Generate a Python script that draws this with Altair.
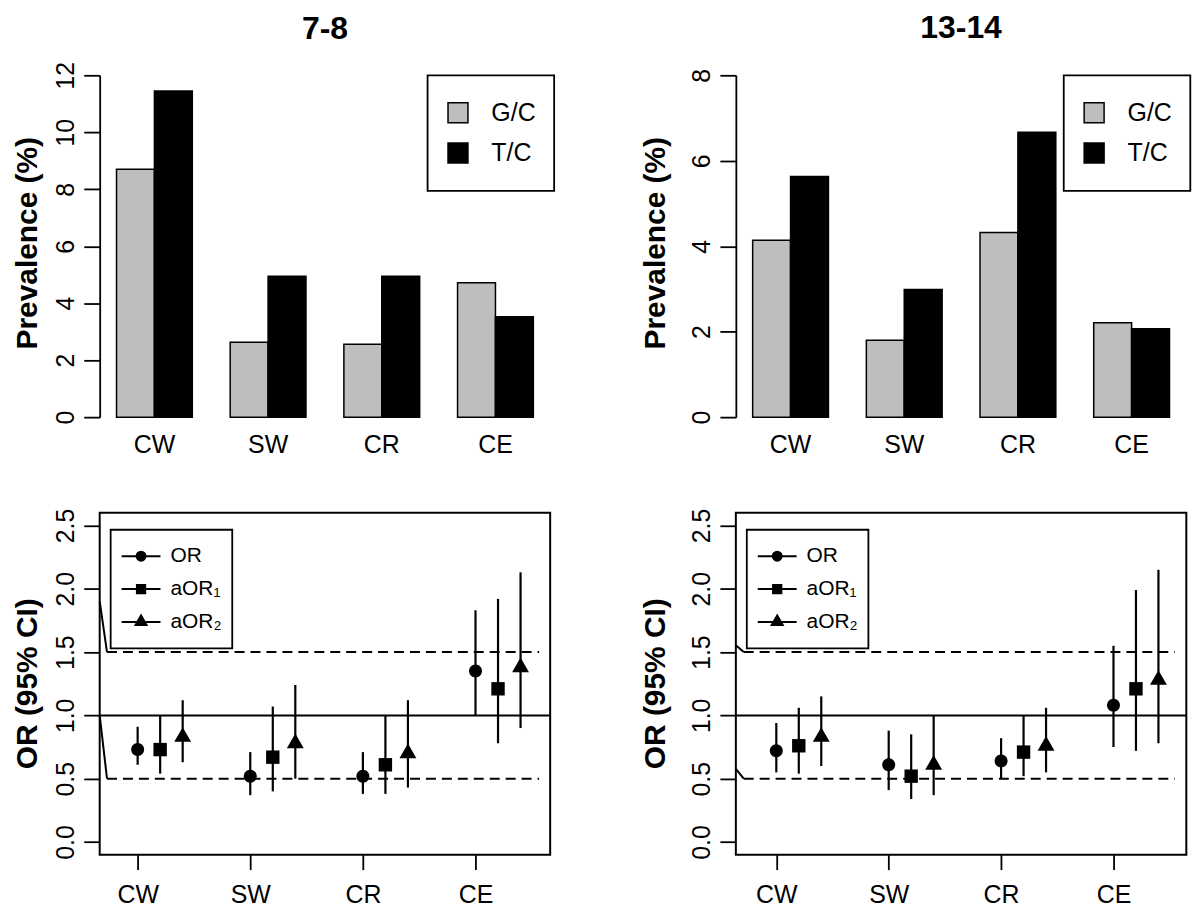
import altair as alt
import pandas as pd

# ---------------- data ----------------
regions = ["CW", "SW", "CR", "CE"]
genotypes = ["G/C", "T/C"]

prev_78_gc = [8.70, 2.63, 2.56, 4.72]
prev_78_tc = [11.45, 4.95, 4.95, 3.52]
prev_1314_gc = [4.14, 1.80, 4.32, 2.21]
prev_1314_tc = [5.63, 2.99, 6.67, 2.07]
prev_ticks_78 = [0, 2, 4, 6, 8, 10, 12]
prev_ticks_1314 = [0, 2, 4, 6, 8]

measures = ["OR", "aOR\u2081", "aOR\u2082"]
measure_offsets = [0.0, 0.2, 0.4]
or_ticks = [0.0, 0.5, 1.0, 1.5, 2.0, 2.5]

# age 7-8
or78_est = [0.73, 0.52, 0.52, 1.35]
or78_lo = [0.61, 0.37, 0.38, 1.00]
or78_hi = [0.91, 0.71, 0.71, 1.83]
aor1_78_est = [0.73, 0.67, 0.61, 1.21]
aor1_78_lo = [0.54, 0.40, 0.38, 0.78]
aor1_78_hi = [1.00, 1.07, 1.00, 1.92]
aor2_78_est = [0.83, 0.78, 0.70, 1.38]
aor2_78_lo = [0.63, 0.50, 0.43, 0.90]
aor2_78_hi = [1.12, 1.24, 1.12, 2.13]

# age 13-14
or1314_est = [0.72, 0.61, 0.64, 1.08]
or1314_lo = [0.55, 0.41, 0.50, 0.75]
or1314_hi = [0.94, 0.88, 0.82, 1.55]
aor1_1314_est = [0.76, 0.52, 0.71, 1.21]
aor1_1314_lo = [0.54, 0.34, 0.52, 0.72]
aor1_1314_hi = [1.06, 0.85, 1.00, 1.99]
aor2_1314_est = [0.83, 0.61, 0.76, 1.28]
aor2_1314_lo = [0.60, 0.37, 0.55, 0.78]
aor2_1314_hi = [1.15, 1.00, 1.06, 2.15]

# reference lines
null_line = [1.0]
dash_levels = [0.5, 1.5]
dash_x_78 = [0.728, 4.565]
dash_x_1314 = [0.71, 4.546]
diag_78_x = [0.663, 0.728]
diag_78_y_top = [1.90, 1.0]
diag_78_y_end = [1.5, 0.5]
diag_1314_x = [0.64, 0.71]
diag_1314_y_top = [1.554, 0.577]
diag_1314_y_end = [1.5, 0.5]

FONT = "Liberation Sans"
PANEL_W = 452
TOP_H = 343
BOT_H = 343

# symbol shapes (custom paths in [-1,1] space)
data_paths = [
    "M0.93,0A0.93,0.93,0,1,1,-0.93,0A0.93,0.93,0,1,1,0.93,0Z",
    "M-0.96,-0.96H0.96V0.96H-0.96Z",
    "M0,-1.4L1.21,0.7H-1.21Z",
]
legend_paths = [
    "M-1,0L1,0M0.23,0A0.23,0.23,0,1,1,-0.23,0A0.23,0.23,0,1,1,0.23,0Z",
    "M-1,0L1,0M-0.213,-0.213L0.213,-0.213L0.213,0.213L-0.213,0.213Z",
    "M-1,0L1,0M0,-0.326L0.282,0.163L-0.282,0.163Z",
]


def y_axis_common(ticks, title, title_x, title_y, fmt):
    return alt.Axis(
        values=ticks, title=title, format=fmt,
        titleFontSize=30, titleFontWeight="bold", titleFont=FONT, titleColor="black",
        titleAngle=270, titleX=title_x, titleY=title_y,
        titleBaseline="alphabetic", titleAlign="center",
        labelAngle=270, labelAlign="center", labelBaseline="alphabetic",
        labelPadding=10, labelFontSize=25, labelFont=FONT, labelColor="black",
        labelFlush=False, labelOverlap=False,
        tickSize=16, tickWidth=1.8, tickColor="black",
        grid=False,
    )


def bar_panel(gc, tc, ticks, title_text, title_x, title_offset):
    df = pd.DataFrame({
        "region": regions + regions,
        "genotype": [genotypes[0]] * len(regions) + [genotypes[1]] * len(regions),
        "value": gc + tc,
    })
    yax = y_axis_common(ticks, "Prevalence (%)", title_x, 168, "d")
    return alt.Chart(df).mark_bar(stroke="black", strokeWidth=1.5).encode(
        x=alt.X("region:N", sort=regions,
                scale=alt.Scale(paddingInner=1 / 3, paddingOuter=0.148),
                axis=alt.Axis(title=None, domain=False, ticks=False, tickSize=0,
                              labelAngle=0, labelPadding=15, labelFontSize=25,
                              labelFont=FONT, labelColor="black", grid=False)),
        xOffset=alt.XOffset("genotype:N", sort=genotypes,
                            scale=alt.Scale(paddingInner=0, paddingOuter=0)),
        y=alt.Y("value:Q", scale=alt.Scale(domain=[ticks[0], ticks[-1]], nice=False, zero=True),
                axis=alt.Axis(**{**yax.to_dict(), "domain": True, "domainWidth": 1.8,
                                 "domainColor": "black"})),
        color=alt.Color("genotype:N", sort=genotypes,
                        scale=alt.Scale(domain=genotypes, range=["#BEBEBE", "#000000"]),
                        legend=alt.Legend(title=None, orient="none", legendX=329, legendY=0,
                                          padding=18, clipHeight=39, rowPadding=1.5,
                                          labelOffset=21, labelFontSize=25, labelFont=FONT,
                                          labelColor="black", symbolType="square",
                                          symbolSize=400, symbolStrokeColor="black",
                                          symbolStrokeWidth=1.5, strokeColor="black",
                                          fillColor="white")),
    ).properties(
        width=PANEL_W, height=TOP_H,
        view=alt.ViewBackground(strokeWidth=0),
        title=alt.TitleParams(text=title_text, fontSize=32, fontWeight="bold", font=FONT,
                              color="black", anchor="middle", baseline="alphabetic",
                              offset=title_offset, frame="group"),
    )


def or_panel(series, xdom, dash_x, diag_x, diag_y1, diag_y2, title_x):
    rows = []
    for j, (est, lo, hi) in enumerate(series):
        for i, reg in enumerate(regions):
            rows.append({"x": i + 1 + measure_offsets[j], "y": est[i], "ylo": lo[i],
                         "yhi": hi[i], "measure": measures[j], "region": reg})
    df = pd.DataFrame(rows)

    xscale = alt.Scale(domain=xdom, nice=False, zero=False)
    yscale = alt.Scale(domain=[-0.1, 2.6], nice=False, zero=False)
    label_js = "[" + ",".join("'" + r + "'" for r in regions) + "]"
    xax = alt.Axis(values=[i + 1 for i in range(len(regions))],
                   labelExpr=label_js + "[round(datum.value) - 1]",
                   title=None, domain=False, grid=False, tickSize=15, tickWidth=1.8,
                   tickColor="black", labelPadding=13, labelFontSize=25, labelFont=FONT,
                   labelColor="black", labelFlush=False, labelOverlap=False)
    yax = y_axis_common(or_ticks, "OR (95% CI)", title_x, 171, ".1f")
    yax = alt.Axis(**{**yax.to_dict(), "domain": False})

    def X(f):
        return alt.X(f, scale=xscale, axis=xax)

    def Y(f):
        return alt.Y(f, scale=yscale, axis=yax)

    solid = alt.Chart(pd.DataFrame({"y": null_line})).mark_rule(
        color="black", strokeWidth=2).encode(y=Y("y:Q"))
    dash_df = pd.DataFrame({"x": [dash_x[0]] * len(dash_levels),
                            "x2": [dash_x[1]] * len(dash_levels),
                            "y": dash_levels})
    dashed = alt.Chart(dash_df).mark_rule(color="black", strokeWidth=2,
                                          strokeDash=[10, 6]).encode(
        x=X("x:Q"), x2="x2:Q", y=Y("y:Q"))
    diag_df = pd.DataFrame({"x": [diag_x[0]] * len(diag_y1),
                            "x2": [diag_x[1]] * len(diag_y1),
                            "y": diag_y1, "y2": diag_y2})
    diag = alt.Chart(diag_df).mark_rule(color="black", strokeWidth=2).encode(
        x=X("x:Q"), x2="x2:Q", y=Y("y:Q"), y2="y2:Q")
    err = alt.Chart(df).mark_rule(color="black", strokeWidth=2.2).encode(
        x=X("x:Q"), y=Y("ylo:Q"), y2="yhi:Q")
    pts = alt.Chart(df).mark_point(filled=True, size=196, opacity=1, color="black").encode(
        x=X("x:Q"), y=Y("y:Q"),
        shape=alt.Shape("measure:N", sort=measures,
                        scale=alt.Scale(domain=measures, range=data_paths), legend=None))
    leg = alt.Chart(df).transform_filter("false").mark_point(
        filled=False, size=1521, opacity=1, fill="black", stroke="black", strokeWidth=2
    ).encode(
        shape=alt.Shape("measure:N", sort=measures,
                        scale=alt.Scale(domain=measures, range=legend_paths),
                        legend=alt.Legend(title=None, orient="none", legendX=11,
                                          legendY=17, padding=10, clipHeight=33,
                                          rowPadding=0, labelOffset=9, labelFontSize=21,
                                          labelFont=FONT, labelColor="black",
                                          symbolSize=1521, symbolStrokeWidth=2,
                                          symbolOpacity=1, strokeColor="black",
                                          fillColor="white"))
    )
    return alt.layer(solid, dashed, diag, err, pts, leg).resolve_scale(
        shape="independent"
    ).properties(width=PANEL_W, height=BOT_H,
                 view=alt.ViewBackground(stroke="black", strokeWidth=2))


tl = bar_panel(prev_78_gc, prev_78_tc, prev_ticks_78, "7-8", -63, -9)
tr = bar_panel(prev_1314_gc, prev_1314_tc, prev_ticks_1314, "13-14", -72, -2)
bl = or_panel([(or78_est, or78_lo, or78_hi),
               (aor1_78_est, aor1_78_lo, aor1_78_hi),
               (aor2_78_est, aor2_78_lo, aor2_78_hi)],
              [0.663, 4.663], dash_x_78, diag_78_x, diag_78_y_top, diag_78_y_end, -63)
br = or_panel([(or1314_est, or1314_lo, or1314_hi),
               (aor1_1314_est, aor1_1314_lo, aor1_1314_hi),
               (aor2_1314_est, aor2_1314_lo, aor2_1314_hi)],
              [0.64, 4.648], dash_x_1314, diag_1314_x, diag_1314_y_top, diag_1314_y_end, -72)

chart = alt.concat(
    tl, tr, bl, br, columns=2,
    spacing={"row": 96, "column": 186.3}, bounds="flush",
).resolve_scale(
    x="independent", y="independent", color="independent", shape="independent"
).resolve_legend(
    color="independent", shape="independent"
).properties(
    padding={"top": 3, "left": 4, "right": 0, "bottom": 0}, background="white"
).configure_legend(
    strokeWidth=1.8
)

chart.save("out.html", embed_options={"renderer": "svg", "actions": False})
